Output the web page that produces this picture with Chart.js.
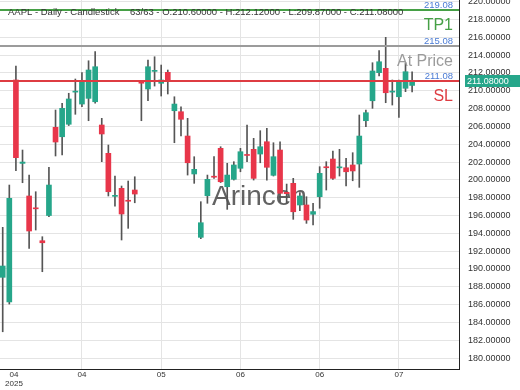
<!DOCTYPE html>
<html>
<head>
<meta charset="utf-8">
<script src="https://cdn.jsdelivr.net/npm/chart.js"></script>
<style>
  html, body { margin: 0; padding: 0; background: #fff; }
  #mycanvas { display: block; }
</style>
</head>
<body>
<canvas id="mycanvas" width="520" height="390"></canvas>
<script>
// AAPL daily candles, 63 sessions
var opens  = [189.06, 186.3, 211.21, 201.85, 198.19, 196.85, 193.17, 196.0, 205.9, 204.84,
              206.24, 209.85, 208.51, 209.15, 208.77, 206.16, 202.98, 198.15, 199.05, 197.68,
              198.86, 210.95, 210.2, 212.18, 210.84, 212.07, 207.76, 207.65, 204.92, 200.66,
              193.55, 198.22, 200.4, 203.54, 199.23, 200.06, 201.3, 202.84, 203.43, 202.9,
              204.28, 200.51, 203.35, 198.6, 199.61, 197.18, 197.18, 196.14, 198.11, 201.46,
              202.34, 201.35, 201.36, 201.67, 201.78, 206.64, 208.88, 212.03, 212.52, 209.85,
              209.33, 210.28, 210.6];
var highs  = [194.67, 199.42, 212.78, 203.35, 200.54, 198.67, 193.62, 201.41, 207.84, 208.59,
              209.72, 211.32, 212.03, 213.37, 214.39, 206.91, 203.91, 200.43, 199.31, 199.87,
              200.35, 211.02, 213.45, 213.82, 212.89, 212.33, 209.33, 208.21, 206.91, 202.6,
              197.55, 200.54, 202.6, 203.72, 201.86, 202.04, 203.54, 206.16, 204.66, 205.52,
              205.79, 204.17, 204.28, 199.53, 200.17, 198.56, 198.11, 197.37, 201.48, 202.04,
              203.24, 203.43, 202.42, 203.05, 207.28, 207.84, 213.15, 214.5, 216.0, 211.21,
              211.21, 213.15, 212.12];
var lows   = [182.95, 186.06, 201.03, 199.68, 192.31, 194.37, 189.69, 195.86, 202.68, 202.79,
              206.1, 207.36, 208.21, 206.64, 208.6, 202.04, 198.19, 197.06, 193.25, 194.56,
              197.43, 206.64, 208.88, 210.53, 209.41, 209.64, 204.17, 204.92, 200.54, 199.61,
              193.4, 197.37, 200.17, 199.7, 196.69, 199.98, 200.91, 202.04, 199.98, 201.92,
              199.98, 200.43, 197.55, 197.37, 195.57, 196.54, 195.12, 194.93, 196.81, 198.86,
              200.06, 200.43, 199.31, 199.9, 199.16, 205.97, 208.03, 211.66, 208.66, 208.4,
              207.02, 209.9, 209.87];
var closes = [190.33, 197.93, 202.49, 202.0, 194.26, 196.75, 192.94, 199.42, 204.25, 208.03,
              209.08, 209.95, 211.02, 212.33, 212.7, 205.15, 198.67, 198.25, 196.17, 197.6,
              198.41, 210.85, 212.7, 212.26, 211.21, 211.1, 208.51, 206.8, 201.92, 201.18,
              195.19, 200.06, 200.3, 199.79, 200.54, 201.67, 203.16, 202.74, 200.17, 203.72,
              201.41, 202.6, 198.49, 198.45, 196.42, 198.19, 195.49, 196.44, 200.73, 201.36,
              200.17, 201.45, 200.91, 201.0, 204.92, 207.54, 212.22, 213.26, 209.78, 209.95,
              211.02, 212.14, 211.08];

var xTickPos = [1.7, 12, 24, 36, 48, 60];
var xTickLabels = [["04", "2025"], "04", "05", "06", "06", "07"];
var yTicks = [180, 182, 184, 186, 188, 190, 192, 194, 196, 198, 200,
              202, 204, 206, 208, 210, 212, 214, 216, 218, 220];

var tpLevel = 219.08;
var entryLevel = 215.08;
var slLevel = 211.08;
var headerText = "AAPL - Daily - Candlestick    63/63 - O:210.60000 - H:212.12000 - L:209.87000 - C:211.08000";

var upColor = '#26a68a';
var downColor = '#e8364a';
var wickColor = '#555555';
var FONT = '"Liberation Sans", Arial, sans-serif';

var bodies = [];
var wicks = [];
var colors = [];
for (var i = 0; i < closes.length; i++) {
    bodies.push({x: i, y: [opens[i], closes[i]]});
    wicks.push({x: i, y: [lows[i], highs[i]]});
    colors.push(closes[i] >= opens[i] ? upColor : downColor);
}

var overlay = {
    id: 'overlay',
    beforeDatasetsDraw: function(chart) {
        var ctx = chart.ctx;
        ctx.save();
        ctx.font = '28px ' + FONT;
        ctx.fillStyle = 'rgba(70,70,70,0.85)';
        ctx.textAlign = 'left';
        ctx.textBaseline = 'alphabetic';
        ctx.fillText('Arincen', 212, 205);
        ctx.restore();
    },
    afterDatasetsDraw: function(chart) {
        var ctx = chart.ctx;
        var area = chart.chartArea;
        var ys = chart.scales.y;
        var levels = [
            {v: tpLevel, color: 'rgb(70,160,70)', name: 'TP1'},
            {v: entryLevel, color: 'rgb(155,155,155)', name: 'At Price'},
            {v: slLevel, color: 'rgb(222,60,66)', name: 'SL'}
        ];
        ctx.save();
        levels.forEach(function(l) {
            var y = Math.round(ys.getPixelForValue(l.v));
            ctx.fillStyle = l.color;
            ctx.fillRect(area.left, y - 1, area.right - area.left, 2);

            ctx.textAlign = 'right';
            ctx.textBaseline = 'alphabetic';
            ctx.font = '9.5px ' + FONT;
            ctx.fillStyle = '#4a7bd4';
            ctx.fillText(l.v.toFixed(2), area.right - 6, y - 2);
            ctx.font = '16px ' + FONT;
            ctx.fillStyle = l.color;
            ctx.fillText(l.name, area.right - 6, y + 20);
        });
        ctx.restore();
    },
    afterDraw: function(chart) {
        var ctx = chart.ctx;
        var area = chart.chartArea;
        var ys = chart.scales.y;
        ctx.save();
        ctx.font = '9.5px ' + FONT;
        ctx.fillStyle = '#333';
        ctx.textAlign = 'left';
        ctx.textBaseline = 'middle';
        ctx.fillText(headerText, 8, 12.5);

        var last = closes[closes.length - 1];
        var py = Math.round(ys.getPixelForValue(last));
        ctx.fillStyle = upColor;
        ctx.fillRect(area.right + 6, py - 6, chart.width - area.right - 6, 12);
        ctx.fillStyle = '#fff';
        ctx.font = '9px ' + FONT;
        ctx.fillText(last.toFixed(5), area.right + 8, py + 0.5);
        ctx.restore();
    }
};

var ctx = document.getElementById('mycanvas');
var chart = new Chart(ctx, {
    type: 'bar',
    data: {
        datasets: [
            {
                label: 'body',
                data: bodies,
                backgroundColor: colors,
                borderWidth: 0,
                barThickness: 5,
                minBarLength: 1,
                grouped: false
            },
            {
                label: 'wick',
                data: wicks,
                backgroundColor: wickColor,
                borderWidth: 0,
                barThickness: 1,
                grouped: false
            }
        ]
    },
    options: {
        responsive: false,
        animation: false,
        events: [],
        layout: {padding: 0},
        plugins: {
            legend: {display: false},
            tooltip: {enabled: false}
        },
        scales: {
            x: {
                type: 'linear',
                offset: false,
                min: -0.41,
                max: 69.1,
                afterBuildTicks: function(scale) {
                    scale.ticks = xTickPos.map(function(v) { return {value: v}; });
                },
                afterFit: function(scale) {
                    scale.height = 21;
                    scale.paddingLeft = 0;
                    scale.paddingRight = 0;
                },
                ticks: {
                    autoSkip: false,
                    maxRotation: 0,
                    padding: 2,
                    color: '#333',
                    font: {family: FONT, size: 8, lineHeight: 1.05},
                    callback: function(value, index) { return xTickLabels[index]; }
                },
                grid: {
                    offset: false,
                    drawTicks: false,
                    color: function(c) { return c.index === 0 ? 'rgba(0,0,0,0)' : '#e4e4e4'; }
                },
                border: {display: true, color: '#222', width: 1}
            },
            y: {
                position: 'right',
                min: 178.77,
                max: 220.19,
                afterBuildTicks: function(scale) {
                    scale.ticks = yTicks.map(function(v) { return {value: v}; });
                },
                afterFit: function(scale) {
                    scale.width = 61;
                    scale.paddingTop = 0;
                    scale.paddingBottom = 0;
                },
                ticks: {
                    autoSkip: false,
                    padding: 9,
                    color: '#333',
                    font: {family: FONT, size: 9},
                    callback: function(value) { return Number(value).toFixed(5); }
                },
                grid: {drawTicks: false, color: '#e4e4e4'},
                border: {display: true, color: '#222', width: 1}
            }
        }
    },
    plugins: [overlay]
});
</script>
</body>
</html>
